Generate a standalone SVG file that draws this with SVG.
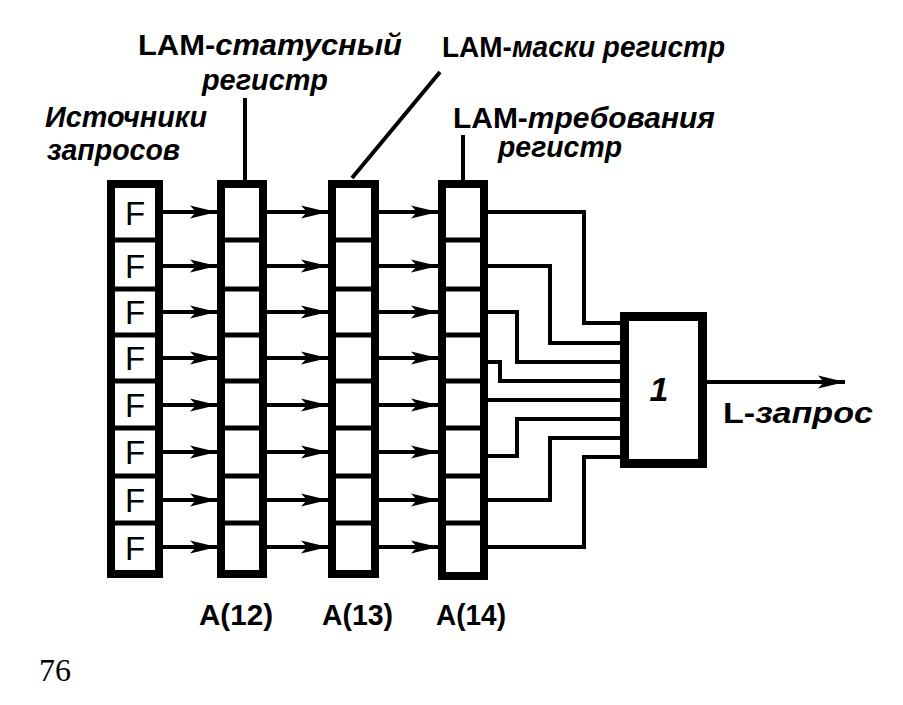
<svg xmlns="http://www.w3.org/2000/svg" width="903" height="705" viewBox="0 0 903 705">
<style>
.box{fill:#fff;stroke:#000;stroke-width:8}
.div{stroke:#000;stroke-width:5;fill:none}
.w{stroke:#000;stroke-width:4;fill:none;stroke-linejoin:miter}
.ar{stroke:#000;stroke-width:4;fill:none;marker-end:url(#ah)}
.lbl{font-family:"Liberation Sans",Arial,sans-serif;font-weight:bold;font-size:29px;fill:#000}
.it{font-style:italic}
.f{font-family:"Liberation Sans",Arial,sans-serif;font-size:33px;fill:#000}
.num{font-family:"Liberation Serif","Times New Roman",serif;font-size:32px;fill:#000}
</style>
<defs>
<marker id="ah" markerUnits="userSpaceOnUse" markerWidth="30" markerHeight="16" refX="27" refY="8" orient="auto">
<path d="M0,1.5 L27,8 L0,14.5 L6,8 Z" fill="#000"/>
</marker>
</defs>
<rect width="903" height="705" fill="#fff"/>

<g id="labels">
<text class="lbl" x="138" y="55" textLength="264" lengthAdjust="spacingAndGlyphs">LAM-<tspan class="it">статусный</tspan></text>
<text class="lbl it" x="202" y="90" textLength="126" lengthAdjust="spacingAndGlyphs">регистр</text>
<text class="lbl" x="442" y="57" textLength="283" lengthAdjust="spacingAndGlyphs">LAM-<tspan class="it">маски регистр</tspan></text>
<text class="lbl it" x="45" y="127" textLength="162" lengthAdjust="spacingAndGlyphs">Источники</text>
<text class="lbl it" x="47" y="160" textLength="133" lengthAdjust="spacingAndGlyphs">запросов</text>
<text class="lbl" x="453" y="128" textLength="262" lengthAdjust="spacingAndGlyphs">LAM-<tspan class="it">требования</tspan></text>
<text class="lbl it" x="498" y="157" textLength="124" lengthAdjust="spacingAndGlyphs">регистр</text>
<text class="lbl" x="199" y="625" textLength="74" lengthAdjust="spacingAndGlyphs">A(12)</text>
<text class="lbl" x="322" y="625" textLength="71" lengthAdjust="spacingAndGlyphs">A(13)</text>
<text class="lbl" x="436" y="625" textLength="70" lengthAdjust="spacingAndGlyphs">A(14)</text>
<text class="num" x="39" y="681">76</text>
<text class="lbl" x="723" y="423" textLength="150" lengthAdjust="spacingAndGlyphs">L-<tspan class="it">запрос</tspan></text>
</g>

<g id="sources">
<rect class="box" x="111" y="184" width="48" height="390"/>
<path class="div" d="M111,240H159M111,289H159M111,335H159M111,381H159M111,428H159M111,476H159M111,523H159"/>
<text class="f" x="135" y="225" text-anchor="middle">F</text>
<text class="f" x="135" y="278" text-anchor="middle">F</text>
<text class="f" x="135" y="324" text-anchor="middle">F</text>
<text class="f" x="135" y="370" text-anchor="middle">F</text>
<text class="f" x="135" y="417" text-anchor="middle">F</text>
<text class="f" x="135" y="464" text-anchor="middle">F</text>
<text class="f" x="135" y="512" text-anchor="middle">F</text>
<text class="f" x="135" y="560" text-anchor="middle">F</text>
</g>

<g id="reg-a12">
<rect class="box" x="221" y="184" width="42" height="390"/>
<path class="div" d="M221,240H263M221,289H263M221,335H263M221,381H263M221,428H263M221,476H263M221,523H263"/>
</g>

<g id="reg-a13">
<rect class="box" x="332" y="184" width="43" height="390"/>
<path class="div" d="M332,240H375M332,289H375M332,335H375M332,381H375M332,428H375M332,476H375M332,523H375"/>
</g>

<g id="reg-a14">
<rect class="box" x="442" y="184" width="42" height="392"/>
<path class="div" d="M442,240H484M442,289H484M442,335H484M442,381H484M442,428H484M442,476H484M442,523H484"/>
</g>

<g id="gate">
<rect x="624.5" y="316.5" width="78" height="147" fill="#fff" stroke="#000" stroke-width="9"/>
<text x="659" y="401" font-family="Liberation Sans, Arial, sans-serif" font-style="italic" font-weight="bold" font-size="34" text-anchor="middle">1</text>
</g>

<g id="connectors">
<path class="w" d="M245,98V180M440,72L352,178M463,135V180"/>
<path class="ar" d="M163,212H217"/>
<path class="ar" d="M163,266H217"/>
<path class="ar" d="M163,312H217"/>
<path class="ar" d="M163,358H217"/>
<path class="ar" d="M163,405H217"/>
<path class="ar" d="M163,452H217"/>
<path class="ar" d="M163,500H217"/>
<path class="ar" d="M163,547H217"/>
<path class="ar" d="M267,212H328"/>
<path class="ar" d="M267,266H328"/>
<path class="ar" d="M267,312H328"/>
<path class="ar" d="M267,358H328"/>
<path class="ar" d="M267,405H328"/>
<path class="ar" d="M267,452H328"/>
<path class="ar" d="M267,500H328"/>
<path class="ar" d="M267,547H328"/>
<path class="ar" d="M379,212H438"/>
<path class="ar" d="M379,266H438"/>
<path class="ar" d="M379,312H438"/>
<path class="ar" d="M379,358H438"/>
<path class="ar" d="M379,405H438"/>
<path class="ar" d="M379,452H438"/>
<path class="ar" d="M379,500H438"/>
<path class="ar" d="M379,547H438"/>
<path class="w" d="M488,212H584V323H620"/>
<path class="w" d="M488,266H550V343H620"/>
<path class="w" d="M488,312H517V362H620"/>
<path class="w" d="M488,362H500V381H620"/>
<path class="w" d="M488,400H620"/>
<path class="w" d="M488,456H517V419H620"/>
<path class="w" d="M488,500H550V438H620"/>
<path class="w" d="M488,547H584V457H620"/>
<path class="ar" d="M707,382H845"/>
</g>
</svg>
